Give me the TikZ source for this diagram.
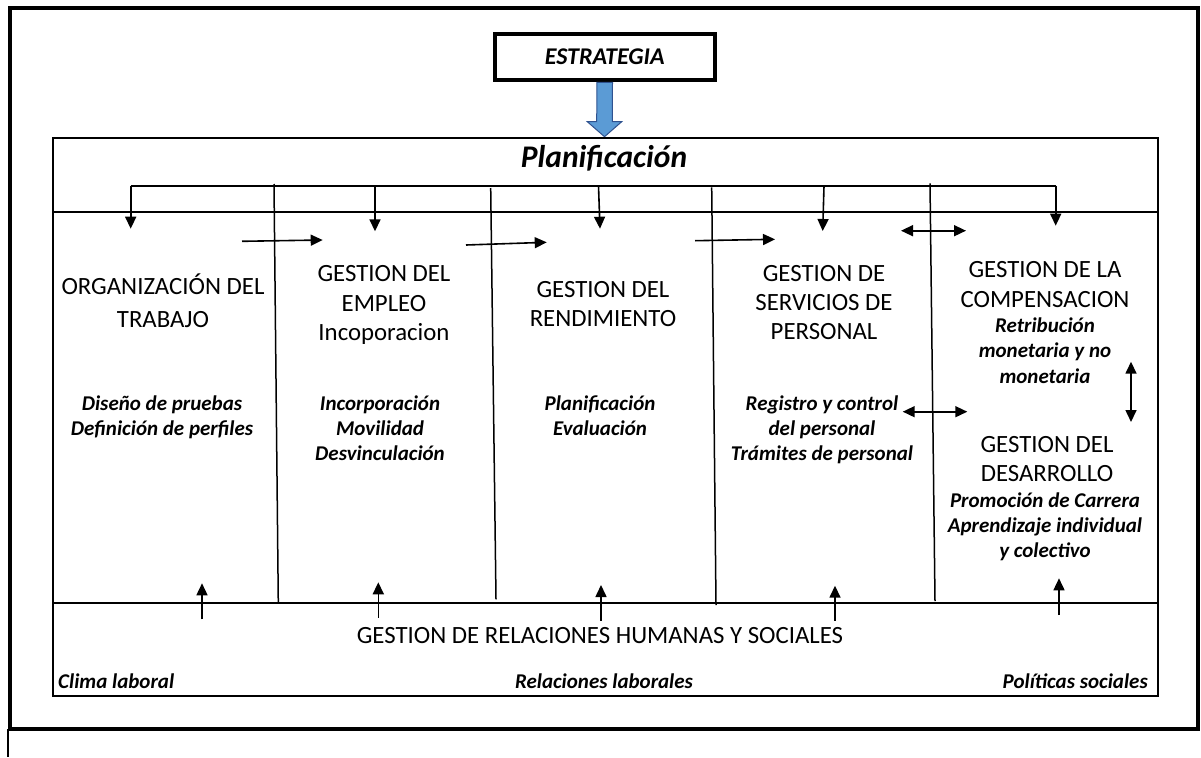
\documentclass[tikz,border=0pt]{standalone}
\usepackage{fontspec}
\setmainfont{Carlito}
\usetikzlibrary{arrows.meta}

\definecolor{arrowblue}{RGB}{91,155,213}
\definecolor{arrowedge}{RGB}{47,82,143}

\tikzset{
  frame/.style={line width=4pt},
  panel/.style={line width=2pt},
  divider/.style={line width=1.5pt},
  conn/.style={line width=1.6pt, -{Triangle[length=12pt,width=11pt]}},
  dconn/.style={line width=1.6pt, {Triangle[length=12pt,width=11pt]}-{Triangle[length=12pt,width=11pt]}},
  title/.style={font=\fontsize{24.8}{30}\selectfont, anchor=base, inner sep=0pt},
  detail/.style={font=\fontsize{21}{25}\selectfont\bfseries\itshape, anchor=base, inner sep=0pt},
  stratbox/.style={draw, line width=4pt, minimum width=220pt, minimum height=46.6pt, inner sep=0pt,
                   font=\fontsize{24}{28}\selectfont\bfseries\itshape},
}

\begin{document}
\begin{tikzpicture}[x=1pt,y=-1pt]
\useasboundingbox (0,0) rectangle (1201,757);

% outer frame
\draw[frame] (9.5,8) rectangle (1198.3,729);
\draw[line width=2pt] (8.3,729) -- (8.3,757);

% strategy box and the broad arrow into the planning panel
\node[stratbox] (estr) at (604.7,57) {ESTRATEGIA};
\coordinate (plantop) at (604.5,136.7);
\draw[fill=arrowblue, draw=arrowedge, line width=1pt]
  ([xshift=-7.8pt]estr.south) -- ([xshift=7.8pt]estr.south) -- (612.3,121.7) -- (621.7,121.7)
  -- (plantop) -- (587.3,121.7) -- (596.7,121.7) -- cycle;

% main panel with its bands
\draw[panel] (52.7,137.7) rectangle (1157.7,695.7);
\draw[panel] (52.7,211.7) -- (1157.7,211.7);
\draw[panel] (52.7,603.3) -- (1157.7,603.3);

\node[font=\fontsize{31.5}{36}\selectfont\bfseries\itshape, anchor=base, inner sep=0pt] (plan) at (604,167) {Planificación};

% column dividers
\draw[divider] (274,184) -- (278.3,603.3);
\draw[divider] (490.7,188) -- (496,599.3);
\draw[divider] (711.7,187.3) -- (716,605);
\draw[divider] (930,183.3) -- (935,601);

% distribution bracket from planning to each area
\coordinate (b1) at (130.7,185.7);
\coordinate (b5) at (1055.7,185.7);
\coordinate (d1) at (130.7,228.7);
\coordinate (d5) at (1055.7,225.7);
\coordinate (b2) at (375,186.5);   \coordinate (d2) at (375,231.3);
\coordinate (b3) at (598.5,186);   \coordinate (d3) at (600,228.7);
\coordinate (b4) at (824,186);     \coordinate (d4) at (822.7,231);
\draw[line width=1.7pt] (b1) -- (b5);
\draw[conn] (b1) -- (d1);
\draw[conn] (b5) -- (d5);
\draw[conn] (b2) -- (d2);
\draw[conn] (b3) -- (d3);
\draw[conn] (b4) -- (d4);

% flow between areas
\coordinate (h1s) at (242,241.3);  \coordinate (h1e) at (322.7,240);
\coordinate (h2s) at (466,245);    \coordinate (h2e) at (546.7,242.3);
\coordinate (h3s) at (695,240.7);  \coordinate (h3e) at (775,239.3);
\coordinate (x1s) at (901,230.7);  \coordinate (x1e) at (966,230.7);
\coordinate (x2s) at (902.7,411.7);\coordinate (x2e) at (967.3,411.7);
\coordinate (x3s) at (1131,361.7); \coordinate (x3e) at (1131,422);
\draw[conn] (h1s) -- (h1e);
\draw[conn] (h2s) -- (h2e);
\draw[conn] (h3s) -- (h3e);
\draw[dconn] (x1s) -- (x1e);
\draw[dconn] (x2s) -- (x2e);
\draw[dconn] (x3s) -- (x3e);

% support from human relations to each area
\coordinate (u1s) at (202,619.3);   \coordinate (u1e) at (202,583.3);
\coordinate (u2s) at (378.3,617.7); \coordinate (u2e) at (378.3,582.3);
\coordinate (u3s) at (601,620.7);   \coordinate (u3e) at (601,585);
\coordinate (u4s) at (835,620.7);   \coordinate (u4e) at (835,585.7);
\coordinate (u5s) at (1059,615);    \coordinate (u5e) at (1059,578.3);
\draw[conn] (u1s) -- (u1e);
\draw[conn] (u2s) -- (u2e);
\draw[conn] (u3s) -- (u3e);
\draw[conn] (u4s) -- (u4e);
\draw[conn] (u5s) -- (u5e);

% column 1
\node[title] (c1a) at (163,294) {ORGANIZACIÓN DEL};
\node[title] (c1b) at (163,327) {TRABAJO};
\node[detail] (c1c) at (162,410) {Diseño de pruebas};
\node[detail] (c1d) at (162,435) {Definición de perfiles};

% column 2
\node[title] (c2a) at (384,281) {GESTION DEL};
\node[title] (c2b) at (384,311) {EMPLEO};
\node[title] (c2c) at (384,340) {Incoporacion};
\node[detail] (c2d) at (380,410) {Incorporación};
\node[detail] (c2e) at (380,435) {Movilidad};
\node[detail] (c2f) at (380,460) {Desvinculación};

% column 3
\node[title] (c3a) at (603,297.5) {GESTION DEL};
\node[title] (c3b) at (603,326) {RENDIMIENTO};
\node[detail] (c3c) at (600,410) {Planificación};
\node[detail] (c3d) at (600,435) {Evaluación};

% column 4
\node[title] (c4a) at (824,281) {GESTION DE};
\node[title] (c4b) at (824,310) {SERVICIOS DE};
\node[title] (c4c) at (824,339) {PERSONAL};
\node[detail] (c4d) at (822,410) {Registro y control};
\node[detail] (c4e) at (822,435) {del personal};
\node[detail] (c4f) at (822,460) {Trámites de personal};

% column 5
\node[title] (c5a) at (1045,277) {GESTION DE LA};
\node[title] (c5b) at (1045,307) {COMPENSACION};
\node[detail] (c5c) at (1045,332) {Retribución};
\node[detail] (c5d) at (1045,357.5) {monetaria y no};
\node[detail] (c5e) at (1045,383) {monetaria};
\node[title] (c5f) at (1047,452) {GESTION DEL};
\node[title] (c5g) at (1047,481) {DESARROLLO};
\node[detail] (c5h) at (1045,507) {Promoción de Carrera};
\node[detail] (c5i) at (1045,532) {Aprendizaje individual};
\node[detail] (c5j) at (1045,557) {y colectivo};

% bottom band
\node[title] (rh) at (600,643.3) {GESTION DE RELACIONES HUMANAS Y SOCIALES};
\node[detail, anchor=base west] (clima) at (58,688) {Clima laboral};
\node[detail] (rel) at (604,688) {Relaciones laborales};
\node[detail, anchor=base east] (pol) at (1148,688) {Políticas sociales};
\end{tikzpicture}
\end{document}
